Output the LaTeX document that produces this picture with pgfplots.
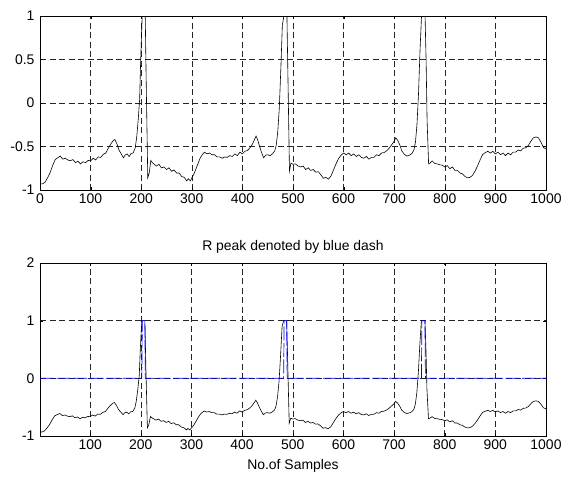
\documentclass[border=0pt]{standalone}
\usepackage{pgfplots}
\pgfplotsset{compat=1.18}
\usepackage{pgfplotstable}
\usepackage{fontspec}
\setmainfont{Liberation Sans}

\pgfplotstableread{
x y
0 -0.93
5 -0.93
10 -0.91
15 -0.86
20 -0.80
25 -0.72
30 -0.65
35 -0.63
40 -0.61
45 -0.645
50 -0.635
55 -0.655
60 -0.665
65 -0.65
70 -0.685
75 -0.67
80 -0.70
85 -0.675
90 -0.685
95 -0.66
100 -0.665
105 -0.635
110 -0.655
115 -0.62
120 -0.625
125 -0.59
130 -0.575
135 -0.52
140 -0.47
145 -0.43
148 -0.42
152 -0.47
156 -0.54
160 -0.58
165 -0.63
168 -0.60
172 -0.585
176 -0.615
180 -0.58
184 -0.575
188 -0.52
191 -0.40
194 -0.20
197 0.05
199 0.50
202 1.00
208 1.00
210 0.20
213 -0.86
216 -0.80
219 -0.66
222 -0.685
225 -0.70
230 -0.725
235 -0.705
240 -0.745
245 -0.735
250 -0.765
255 -0.745
260 -0.785
265 -0.77
270 -0.805
275 -0.805
280 -0.845
285 -0.855
290 -0.895
293 -0.87
297 -0.895
300 -0.86
304 -0.82
308 -0.76
312 -0.70
316 -0.64
320 -0.60
325 -0.565
330 -0.585
335 -0.575
340 -0.595
345 -0.595
350 -0.62
355 -0.62
360 -0.635
365 -0.62
370 -0.625
375 -0.605
380 -0.615
385 -0.585
390 -0.605
395 -0.565
400 -0.585
405 -0.555
410 -0.545
415 -0.515
420 -0.47
424 -0.42
427 -0.38
430 -0.42
434 -0.50
438 -0.57
442 -0.63
446 -0.60
450 -0.595
455 -0.605
460 -0.58
464 -0.55
467 -0.48
470 -0.32
473 -0.05
476 0.40
479 0.90
482 1.00
488 1.00
490 0.30
493 -0.78
496 -0.69
500 -0.705
505 -0.70
510 -0.725
515 -0.735
520 -0.725
525 -0.765
530 -0.745
535 -0.775
540 -0.765
545 -0.795
550 -0.79
555 -0.825
560 -0.865
565 -0.855
570 -0.875
575 -0.84
580 -0.77
585 -0.70
590 -0.64
595 -0.60
600 -0.575
605 -0.595
610 -0.575
615 -0.605
620 -0.585
625 -0.615
630 -0.595
635 -0.625
640 -0.635
645 -0.615
650 -0.645
655 -0.625
660 -0.625
665 -0.595
670 -0.605
675 -0.575
680 -0.57
685 -0.55
690 -0.52
695 -0.48
700 -0.44
703 -0.40
707 -0.43
711 -0.48
715 -0.55
720 -0.59
725 -0.61
730 -0.60
735 -0.58
739 -0.54
742 -0.45
745 -0.25
748 0.10
751 0.60
754 1.00
761 1.00
763 0.50
765 -0.20
768 -0.70
771 -0.69
775 -0.665
780 -0.695
785 -0.70
790 -0.71
795 -0.715
800 -0.735
805 -0.72
810 -0.755
815 -0.735
820 -0.775
825 -0.775
830 -0.805
835 -0.815
840 -0.845
845 -0.86
850 -0.855
855 -0.83
860 -0.78
865 -0.72
870 -0.65
875 -0.59
880 -0.57
885 -0.555
890 -0.575
895 -0.555
900 -0.585
905 -0.565
910 -0.595
915 -0.575
920 -0.605
925 -0.575
930 -0.595
935 -0.565
940 -0.565
945 -0.54
950 -0.55
955 -0.52
960 -0.515
965 -0.49
970 -0.44
975 -0.40
980 -0.39
985 -0.40
990 -0.45
995 -0.51
1000 -0.53
}\ecgdata

\pgfplotstableread{
x y
1 0
202 0
203 1
208 1
209 0
482 0
483 1
488 1
489 0
754 0
755 1
761 1
762 0
1000 0
}\rpeak

\pgfplotsset{
  matlab/.style={
    scale only axis,
    width=506bp,
    anchor=north west,
    axis line style={line width=0.7pt},
    grid=major,
    major grid style={black!85, line width=0.45pt, dash pattern=on 6bp off 3.5bp},
    tick align=inside,
    major tick length=3bp,
    tick style={black},
    tick label style={font=\fontsize{14}{16}\selectfont},
    /pgf/number format/assume math mode=true,
    /pgf/number format/1000 sep={},
    yticklabel style={xshift=-2bp},
  },
}

\begin{document}
\begin{tikzpicture}
\useasboundingbox (0bp,0bp) rectangle (574bp,-479bp);
\begin{axis}[matlab, at={(40bp,-16bp)}, height=174bp,
  xmin=0, xmax=1000, ymin=-1, ymax=1,
  xtick={0,100,...,1000}, ytick={-1,-0.5,0,0.5,1},
  yticklabels={-1,-0.5,0,0.5,1}]
\addplot[black, line width=0.6pt] table {\ecgdata};
\end{axis}
\begin{axis}[matlab, at={(40bp,-263bp)}, height=173bp,
  xmin=1, xmax=1000, ymin=-1, ymax=2,
  xtick={100,200,...,1000}, ytick={-1,0,1,2},
  yticklabels={-1,0,1,2},
  title={R peak denoted by blue dash},
  title style={font=\fontsize{14}{16}\selectfont, yshift=0bp},
  xlabel={No.of Samples},
  xlabel style={font=\fontsize{14}{16}\selectfont, yshift=-3bp}]
\addplot[black, line width=0.6pt] table {\ecgdata};
\addplot[blue, line width=0.7pt, dash pattern=on 14bp off 2.5bp] table {\rpeak};
\end{axis}
\end{tikzpicture}
\end{document}
